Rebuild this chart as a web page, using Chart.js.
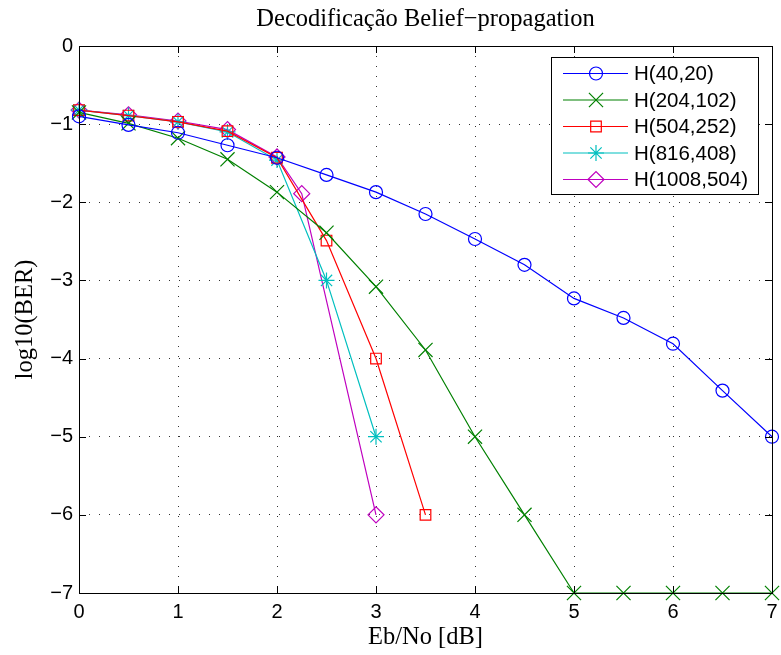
<!DOCTYPE html>
<html>
<head>
<meta charset="utf-8">
<script src="https://cdn.jsdelivr.net/npm/chart.js@4/dist/chart.umd.min.js"></script>
<style>
  html, body { margin: 0; padding: 0; background: #fff; }
  #wrap { width: 781px; height: 655px; }
</style>
</head>
<body>
<div id="wrap"><canvas id="berChart" width="781" height="655"></canvas></div>
<script>
// Eb/No axis (dB)
const ebno = [0, 0.5, 1, 1.5, 2, 2.5, 3, 3.5, 4, 4.5, 5, 5.5, 6, 6.5, 7];
const ebno1008 = [0, 0.5, 1, 1.5, 2, 2.25, 3];

// log10(BER) per code
const ber40_20 = [-0.90, -1.01, -1.11, -1.27, -1.43, -1.65, -1.87, -2.15, -2.47, -2.80, -3.23, -3.48, -3.81, -4.41, -5.0];
const ber204_102 = [-0.85, -0.99, -1.18, -1.45, -1.87, -2.39, -3.08, -3.89, -5.0, -6.0, -7.0, -7.0, -7.0, -7.0, -7.0];
const ber504_252 = [-0.82, -0.89, -0.97, -1.09, -1.43, -2.49, -4.0, -6.0];
const ber816_408 = [-0.82, -0.89, -0.97, -1.10, -1.46, -3.0, -5.0];
const ber1008_504 = [-0.82, -0.88, -0.96, -1.07, -1.42, -1.89, -6.0];

const xTicks = [0, 1, 2, 3, 4, 5, 6, 7];
const yTicks = [0, -1, -2, -3, -4, -5, -6, -7];

const pts = (xs, ys) => ys.map((y, i) => ({ x: xs[i], y: y }));

const serif = '"Liberation Serif", "Times New Roman", serif';
const sans = '"Liberation Sans", Arial, sans-serif';

function series(label, xs, ys, color, style, radius) {
  return {
    label: label,
    data: pts(xs, ys),
    borderColor: color,
    backgroundColor: 'rgba(0,0,0,0)',
    pointBorderColor: color,
    pointBackgroundColor: 'rgba(0,0,0,0)',
    pointStyle: style,
    pointRadius: radius,
    pointBorderWidth: 1.2,
    borderWidth: 1.2,
    showLine: true,
    clip: false
  };
}

const datasets = [
  series('H(40,20)', ebno, ber40_20, '#0000ff', 'circle', 6.5),
  series('H(204,102)', ebno, ber204_102, '#008000', 'crossRot', 10),
  series('H(504,252)', ebno, ber504_252, '#ff0000', 'rect', 7.5),
  series('H(816,408)', ebno, ber816_408, '#00bfbf', 'star', 8),
  series('H(1008,504)', ebno1008, ber1008_504, '#bf00bf', 'rectRot', 8)
];

// pin the right edge of the plot box (label overflow would pull it in)
const pinRight = {
  id: 'pinRight',
  afterLayout(chart) {
    const x = chart.scales.x;
    x.right = 772;
    x.width = x.right - x.left;
    x.configure();
    chart.chartArea.right = 772;
    chart.chartArea.width = 772 - chart.chartArea.left;
  }
};

// frame, inward ticks, title, axis labels and legend box
const decor = {
  id: 'decor',
  afterDraw(chart) {
    const ctx = chart.ctx;
    const a = chart.chartArea;
    const xs = chart.scales.x, ys = chart.scales.y;
    ctx.save();
    ctx.strokeStyle = '#000';
    ctx.lineWidth = 1;
    ctx.setLineDash([]);
    ctx.beginPath();
    xTicks.forEach(t => {
      const px = Math.round(xs.getPixelForValue(t)) + 0.5;
      ctx.moveTo(px, a.bottom); ctx.lineTo(px, a.bottom - 7);
      ctx.moveTo(px, a.top); ctx.lineTo(px, a.top + 7);
    });
    yTicks.forEach(t => {
      const py = Math.round(ys.getPixelForValue(t)) + 0.5;
      ctx.moveTo(a.left, py); ctx.lineTo(a.left + 7, py);
      ctx.moveTo(a.right, py); ctx.lineTo(a.right - 7, py);
    });
    ctx.stroke();
    ctx.strokeRect(Math.round(a.left) + 0.5, Math.round(a.top) + 0.5,
      Math.round(a.right - a.left), Math.round(a.bottom - a.top));

    // texts
    ctx.fillStyle = '#000';
    ctx.textAlign = 'center';
    ctx.textBaseline = 'middle';
    const cx = (a.left + a.right) / 2;
    ctx.font = '24.5px ' + serif;
    ctx.fillText('Decodificação Belief\u2212propagation', cx, 20);
    ctx.fillText('Eb/No [dB]', cx, 638);
    ctx.save();
    ctx.translate(26, (a.top + a.bottom) / 2);
    ctx.rotate(-Math.PI / 2);
    ctx.fillText('log10(BER)', 0, 0);
    ctx.restore();

    // legend
    const lx = 551, ly = 57, lw = 207, lh = 137;
    ctx.fillStyle = '#fff';
    ctx.fillRect(lx, ly, lw, lh);
    ctx.strokeRect(lx + 0.5, ly + 0.5, lw, lh);
    ctx.font = '20.5px ' + sans;
    ctx.textAlign = 'left';
    datasets.forEach((ds, i) => {
      const y = 73.5 + i * 26.5;
      ctx.strokeStyle = ds.borderColor;
      ctx.lineWidth = 1.2;
      ctx.beginPath();
      ctx.moveTo(563, y); ctx.lineTo(628, y);
      ctx.stroke();
      ctx.fillStyle = 'rgba(0,0,0,0)';
      Chart.helpers.drawPoint(ctx, {
        pointStyle: ds.pointStyle, radius: ds.pointRadius, borderWidth: 1.2, rotation: 0
      }, 596, y);
      ctx.fillStyle = '#000';
      ctx.fillText(ds.label, 634, y + 1);
    });
    ctx.restore();
  }
};

new Chart(document.getElementById('berChart'), {
  type: 'scatter',
  data: { datasets: datasets },
  plugins: [pinRight, decor],
  options: {
    responsive: false,
    animation: false,
    layout: { padding: { top: 46, right: 5, left: 0, bottom: 0 } },
    plugins: {
      legend: { display: false },
      title: { display: false },
      tooltip: { enabled: false }
    },
    scales: {
      x: {
        type: 'linear',
        min: 0, max: 7,
        afterFit: s => { s.height = 62; },
        afterBuildTicks: s => { s.ticks = xTicks.map(v => ({ value: v })); },
        ticks: {
          color: '#000',
          padding: 7,
          font: { family: sans, size: 20 },
          callback: v => String(v)
        },
        grid: { color: '#333', lineWidth: 1, drawTicks: false },
        border: { display: false, dash: [1, 9] }
      },
      y: {
        type: 'linear',
        min: -7, max: 0,
        afterFit: s => { s.width = 79; s.paddingTop = 0; s.paddingBottom = 0; },
        afterBuildTicks: s => { s.ticks = yTicks.map(v => ({ value: v })); },
        ticks: {
          color: '#000',
          padding: 6,
          font: { family: sans, size: 20 },
          callback: v => (v < 0 ? '\u2212' + Math.abs(v) : String(v))
        },
        grid: { color: '#333', lineWidth: 1, drawTicks: false },
        border: { display: false, dash: [1, 9] }
      }
    }
  }
});
</script>
</body>
</html>
